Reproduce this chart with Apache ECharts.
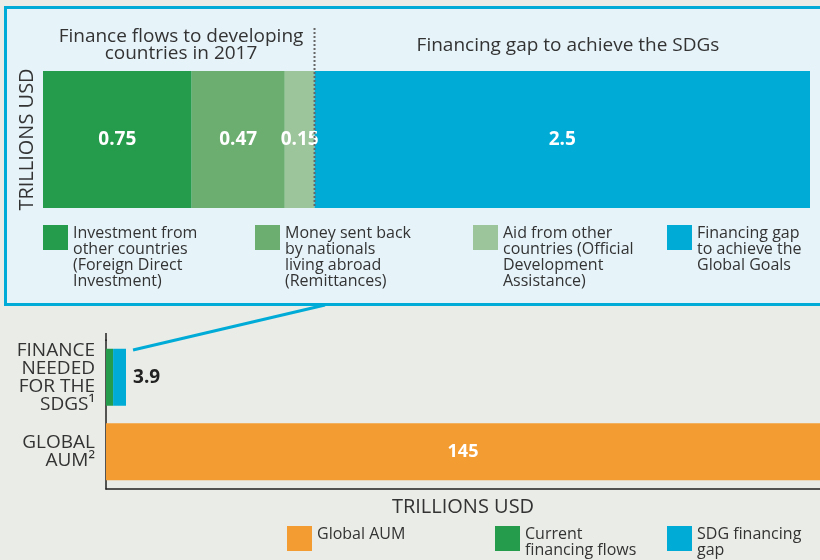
<!DOCTYPE html>
<html>
<head>
<meta charset="utf-8">
<script src="https://cdn.jsdelivr.net/npm/echarts@6/dist/echarts.min.js"></script>
<style>
  html, body { margin: 0; padding: 0; background: #eaede7; }
  #main { width: 820px; height: 560px; }
</style>
</head>
<body>
<div id="main"></div>
<script>
// finance flows to developing countries (2017) + financing gap, trillions USD
const flowNames = [
  "Investment from\nother countries\n(Foreign Direct\nInvestment)",
  "Money sent back\nby nationals\nliving abroad\n(Remittances)",
  "Aid from other\ncountries (Official\nDevelopment\nAssistance)",
  "Financing gap\nto achieve the\nGlobal Goals",
];
const flowValues = [0.75, 0.47, 0.15, 2.5];
const flowColors = ["#259b4c", "#6bae6f", "#9dc59b", "#00abd6"];

// bottom chart
const needCategories = ["FINANCE\nNEEDED\nFOR THE\nSDGS¹", "GLOBAL\nAUM²"];
const currentFlows = [0.75 + 0.47 + 0.15, "-"];
const sdgGap = [2.5, "-"];
const globalAum = ["-", 145];
const needNames = ["Global AUM", "Current\nfinancing flows", "SDG financing\ngap"];
const needColors = ["#f39c31", "#259b4c", "#00abd6"];

const font = "Open Sans";
const textColor = "#333";
const flowsTotal = flowValues.slice(0, 3).reduce((a, b) => a + b, 0);
const topTotal = flowValues.reduce((a, b) => a + b, 0);

// legend boxes: square with text block, tops aligned
function legendItem(name, color, x, y) {
  return {
    type: "group",
    silent: true,
    children: [
      { type: "rect", shape: { x: x, y: y, width: 25, height: 25 }, style: { fill: color } },
      {
        type: "text",
        x: x + 30,
        y: y,
        style: {
          text: name,
          fontFamily: font,
          fontSize: 16,
          lineHeight: 16,
          fill: textColor,
          verticalAlign: "top",
        },
      },
    ],
  };
}

const chart = echarts.init(document.getElementById("main"));

const topSeries = flowValues.map((v, i) => ({
  name: flowNames[i],
  type: "bar",
  stack: "top",
  xAxisIndex: 0,
  yAxisIndex: 0,
  barWidth: 137,
  data: [v],
  itemStyle: { color: flowColors[i] },
  label: {
    show: true,
    position: "inside",
    color: "#fff",
    fontFamily: font,
    fontWeight: "bold",
    fontSize: 19,
  },
}));

const option = {
  backgroundColor: "#eaede7",
  animation: false,
  title: [
    {
      text: "Finance flows to developing\ncountries in 2017",
      left: 176,
      top: 23,
      textAlign: "center",
      textStyle: {
        fontFamily: font,
        fontWeight: "normal",
        fontSize: 19,
        lineHeight: 17,
        color: textColor,
      },
    },
    {
      text: "Financing gap to achieve the SDGs",
      left: 563,
      top: 31,
      textAlign: "center",
      textStyle: {
        fontFamily: font,
        fontWeight: "normal",
        fontSize: 19,
        color: textColor,
      },
    },
  ],
  grid: [
    { left: 43, top: 71, width: 767, height: 137 },
    { left: 106, top: 340, right: 0, bottom: 71 },
  ],
  xAxis: [
    {
      gridIndex: 0,
      type: "value",
      min: 0,
      max: topTotal,
      show: false,
    },
    {
      gridIndex: 1,
      type: "value",
      min: 0,
      max: 138,
      splitLine: { show: false },
      axisLabel: { show: false },
      axisTick: { show: false },
      axisLine: { show: true, lineStyle: { color: "#222", width: 1.5 } },
      name: "TRILLIONS USD",
      nameLocation: "middle",
      nameGap: 8,
      nameTextStyle: { fontFamily: font, fontSize: 20, color: textColor },
    },
  ],
  yAxis: [
    {
      gridIndex: 0,
      type: "category",
      data: [""],
      axisLine: { show: false },
      axisTick: { show: false },
      axisLabel: { show: false },
      name: "TRILLIONS USD",
      nameLocation: "middle",
      nameRotate: 90,
      nameGap: 6,
      nameTextStyle: { fontFamily: font, fontSize: 20, color: textColor },
    },
    {
      gridIndex: 1,
      type: "category",
      inverse: true,
      data: needCategories,
      axisLine: { show: true, lineStyle: { color: "#222", width: 1.5 } },
      axisTick: { show: false },
      axisLabel: {
        fontFamily: font,
        fontSize: 19,
        lineHeight: 18,
        color: textColor,
        align: "right",
        margin: 11,
      },
    },
  ],
  series: topSeries.concat([
    {
      name: needNames[1],
      type: "bar",
      stack: "need",
      xAxisIndex: 1,
      yAxisIndex: 1,
      barWidth: 57,
      data: currentFlows,
      itemStyle: { color: needColors[1] },
    },
    {
      name: needNames[2],
      type: "bar",
      stack: "need",
      xAxisIndex: 1,
      yAxisIndex: 1,
      barWidth: 57,
      data: sdgGap,
      itemStyle: { color: needColors[2] },
      label: {
        show: true,
        position: "right",
        distance: 7,
        color: "#222",
        fontFamily: font,
        fontWeight: "bold",
        fontSize: 19,
        formatter: (p) => (currentFlows[p.dataIndex] + p.value).toFixed(1),
      },
    },
    {
      name: needNames[0],
      type: "bar",
      stack: "need",
      xAxisIndex: 1,
      yAxisIndex: 1,
      barWidth: 57,
      data: globalAum,
      itemStyle: { color: needColors[0] },
      label: {
        show: true,
        position: "inside",
        color: "#fff",
        fontFamily: font,
        fontWeight: "bold",
        fontSize: 18,
      },
    },
  ]),
};

chart.setOption(option);

// inset panel, dotted divider, connector line and legends
const dividerX = chart.convertToPixel({ gridIndex: 0 }, [flowsTotal, 0])[0];
const needTop = chart.convertToPixel({ gridIndex: 1 }, [topTotal, 0]);
const topLegendX = [43, 255, 473, 667];
const needLegendX = [287, 495, 667];
chart.setOption({
  graphic: [
    {
      type: "rect",
      z: -10,
      silent: true,
      shape: { x: 5.5, y: 7.5, width: 830, height: 297 },
      style: { fill: "#e6f3f9", stroke: "#00acd7", lineWidth: 3 },
    },
    {
      type: "line",
      z: 10,
      silent: true,
      shape: { x1: dividerX, y1: 28, x2: dividerX, y2: 208 },
      style: { stroke: "#666", lineWidth: 2, lineDash: [2, 2] },
    },
    {
      type: "line",
      silent: true,
      shape: { x1: needTop[0] + 7, y1: 350, x2: 325, y2: 305 },
      style: { stroke: "#00acd7", lineWidth: 3 },
    },
    {
      type: "line",
      silent: true,
      shape: { x1: 106, y1: 333, x2: 106, y2: 341 },
      style: { stroke: "#222", lineWidth: 1.5 },
    },
  ]
    .concat(flowNames.map((n, i) => legendItem(n, flowColors[i], topLegendX[i], 225)))
    .concat(needNames.map((n, i) => legendItem(n, needColors[i], needLegendX[i], 526))),
});
</script>
</body>
</html>
